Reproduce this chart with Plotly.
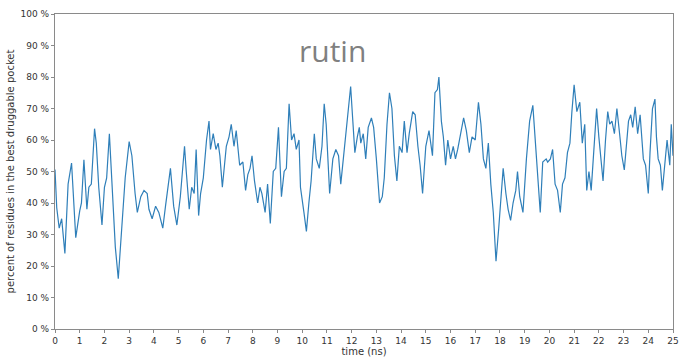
import plotly.graph_objects as go

# Simulation time (ns) and share of residues in the best druggable pocket (%)
time_ns = [
    0.00, 0.07, 0.17, 0.27, 0.40, 0.53, 0.67, 0.84, 1.00, 1.07, 1.17, 1.29, 1.37,
    1.47, 1.60, 1.67, 1.77, 1.90, 2.00, 2.09, 2.20, 2.33, 2.44, 2.56, 2.67, 2.84,
    3.00, 3.11, 3.24, 3.33, 3.47, 3.60, 3.73, 3.80, 3.93, 4.07, 4.20, 4.36, 4.47,
    4.60, 4.67, 4.80, 4.93, 5.07, 5.17, 5.24, 5.31, 5.43, 5.53, 5.63, 5.71, 5.81,
    5.89, 6.00, 6.13, 6.23, 6.29, 6.40, 6.51, 6.60, 6.67, 6.77, 6.93, 7.04, 7.13,
    7.24, 7.33, 7.47, 7.60, 7.71, 7.80, 7.89, 7.97, 8.07, 8.20, 8.29, 8.37, 8.50,
    8.60, 8.71, 8.83, 8.93, 9.04, 9.16, 9.27, 9.36, 9.47, 9.57, 9.67, 9.76, 9.87,
    9.93, 10.07, 10.17, 10.27, 10.36, 10.49, 10.57, 10.69, 10.80, 10.89, 10.97,
    11.11, 11.24, 11.36, 11.47, 11.56, 11.64, 11.73, 11.83, 11.91, 11.96, 12.04,
    12.13, 12.23, 12.31, 12.37, 12.47, 12.57, 12.67, 12.80, 12.89, 13.00, 13.13,
    13.24, 13.32, 13.43, 13.53, 13.63, 13.73, 13.83, 13.93, 14.04, 14.13, 14.24,
    14.33, 14.47, 14.57, 14.68, 14.77, 14.87, 14.91, 15.00, 15.13, 15.27, 15.37,
    15.47, 15.53, 15.63, 15.71, 15.80, 15.89, 16.00, 16.11, 16.20, 16.29, 16.40,
    16.53, 16.64, 16.76, 16.87, 17.00, 17.13, 17.23, 17.33, 17.43, 17.53, 17.63,
    17.73, 17.84, 17.95, 18.07, 18.13, 18.24, 18.33, 18.43, 18.53, 18.64, 18.71,
    18.80, 18.93, 19.07, 19.20, 19.33, 19.44, 19.53, 19.63, 19.73, 19.87, 19.93,
    20.04, 20.13, 20.23, 20.33, 20.44, 20.53, 20.63, 20.73, 20.83, 20.91, 21.00,
    21.11, 21.23, 21.33, 21.43, 21.51, 21.60, 21.69, 21.80, 21.91, 22.00, 22.07,
    22.17, 22.27, 22.36, 22.44, 22.53, 22.63, 22.73, 22.84, 22.93, 23.03, 23.11,
    23.20, 23.29, 23.37, 23.47, 23.57, 23.67, 23.80, 23.89, 24.00, 24.07, 24.17,
    24.27, 24.33, 24.40, 24.49, 24.57, 24.67, 24.76, 24.87, 24.93, 25.00,
]
pocket_pct = [
    50.6, 38.5, 32.0, 35.0, 24.0, 46.0, 52.7, 29.0, 37.5, 40.0, 53.7, 38.0, 45.0,
    46.0, 63.6, 59.0, 45.0, 33.0, 45.0, 48.0, 62.0, 40.7, 26.0, 16.0, 29.0, 48.0,
    59.5, 55.0, 43.0, 37.0, 42.0, 44.0, 43.0, 38.0, 35.0, 39.0, 37.0, 32.0, 39.0,
    46.0, 51.0, 39.0, 33.0, 42.0, 52.0, 58.0, 50.0, 38.0, 45.0, 43.0, 57.0, 36.0,
    43.0, 48.0, 60.0, 66.0, 57.0, 62.0, 57.0, 59.0, 55.0, 45.0, 58.0, 61.0, 65.0,
    58.0, 63.0, 52.0, 53.0, 44.0, 49.0, 51.0, 55.0, 47.0, 40.0, 45.0, 43.0, 37.0,
    46.0, 33.5, 50.0, 51.0, 64.0, 42.0, 50.0, 51.0, 71.5, 60.0, 62.0, 57.0, 60.0,
    45.0, 37.0, 31.0, 40.0, 47.0, 62.0, 54.0, 51.0, 58.0, 71.5, 65.0,
    43.0, 54.0, 57.0, 55.0, 46.0, 52.0, 59.0, 67.0, 73.0, 77.0, 67.0,
    56.0, 61.0, 64.0, 59.0, 62.0, 54.0, 64.0, 67.0, 64.0, 54.0, 40.0,
    42.0, 48.0, 65.0, 75.0, 70.0, 55.0, 47.0, 58.0, 56.0, 66.0, 56.0,
    62.0, 69.0, 68.0, 58.0, 52.0, 43.0, 49.0, 58.0, 63.0, 55.0, 75.0,
    76.0, 80.0, 66.0, 61.0, 52.0, 60.0, 54.0, 58.0, 54.0, 57.0, 62.0,
    67.0, 63.0, 56.0, 61.0, 60.0, 72.0, 65.0, 54.0, 51.0, 59.0, 46.0,
    37.0, 21.5, 32.0, 47.0, 51.0, 43.0, 38.0, 34.5, 40.0, 44.0, 50.0,
    42.0, 37.0, 54.0, 66.0, 71.0, 59.0, 50.0, 37.0, 53.0, 54.0, 53.0,
    54.0, 57.0, 46.0, 44.0, 37.0, 46.0, 48.0, 56.0, 59.0, 69.0, 77.5,
    69.0, 72.0, 59.0, 65.0, 44.0, 50.0, 44.0, 56.0, 70.0, 61.0, 56.0,
    47.0, 60.0, 69.0, 65.0, 66.0, 62.0, 70.0, 62.0, 55.0, 50.5, 57.0,
    66.0, 68.0, 64.0, 70.5, 62.0, 68.0, 54.0, 52.0, 43.0, 56.0, 70.0,
    73.0, 61.0, 54.0, 52.0, 44.0, 54.0, 60.0, 52.0, 65.0, 55.0, 63.0, 57.0,
]

x_ticks = list(range(0, 26))
y_ticks = list(range(0, 101, 10))
y_tick_text = [f"{v} %" for v in y_ticks]

axis_color = "#8a8a8a"
font_color = "#333333"

fig = go.Figure()
fig.add_trace(go.Scatter(
    x=time_ns, y=pocket_pct, mode="lines",
    line=dict(color="#2f7fb9", width=1.2),
    showlegend=False, hoverinfo="x+y",
))

fig.add_annotation(
    text="rutin", x=0.449, y=0.885, xref="paper", yref="paper",
    xanchor="center", yanchor="middle", showarrow=False,
    font=dict(family="Open Sans, DejaVu Sans, sans-serif", size=30, color="#808080"),
)

common_axis = dict(
    showline=True, linecolor=axis_color, linewidth=1.2, mirror=True,
    showgrid=False, zeroline=False, ticks="outside", ticklen=3,
    tickcolor=axis_color, tickfont=dict(size=9, color=font_color),
    ticklabeloverflow="allow",
)

fig.update_xaxes(
    range=[0, 25], tickmode="array", tickvals=x_ticks,
    title=dict(text="time (ns)", font=dict(size=10, color=font_color), standoff=2),
    **common_axis,
)
fig.update_yaxes(
    range=[0, 100], tickmode="array", tickvals=y_ticks, ticktext=y_tick_text,
    title=dict(text="percent of residues in the best druggable pocket",
               font=dict(size=10, color=font_color), standoff=4),
    **common_axis,
)

fig.update_layout(
    width=682, height=358,
    margin=dict(l=55, r=3, t=14, b=25),
    paper_bgcolor="white", plot_bgcolor="white",
    font=dict(family="DejaVu Sans, sans-serif", color=font_color),
)

fig.write_html("out.html")
